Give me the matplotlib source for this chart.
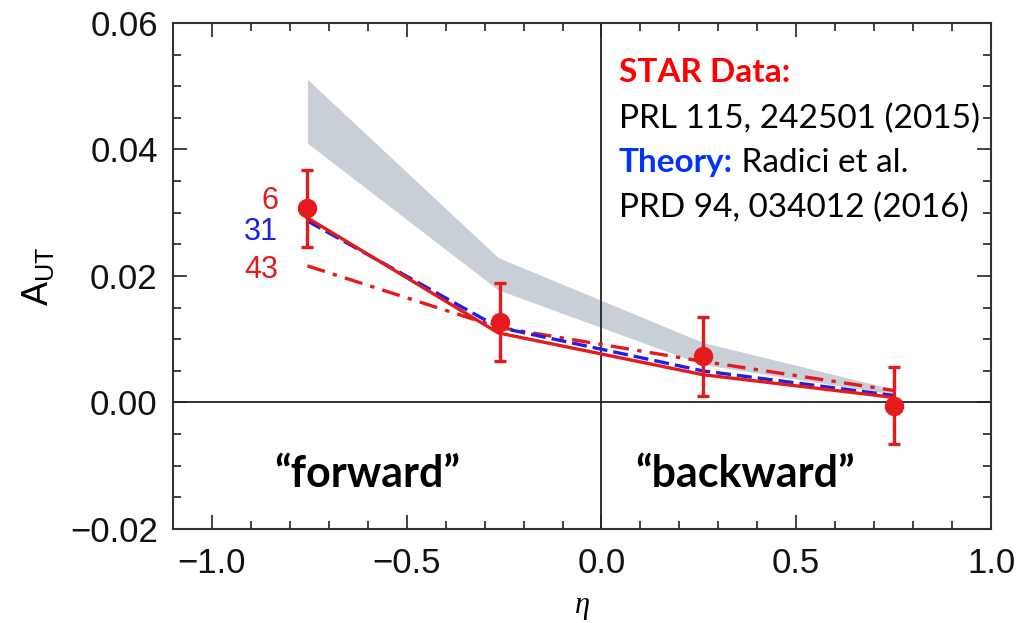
import matplotlib
matplotlib.use('Agg')
import matplotlib.pyplot as plt
from matplotlib.ticker import MultipleLocator, FuncFormatter

# STAR data points (eta, A_UT, stat. error)
eta_data = [-0.755, -0.26, 0.26, 0.75]
aut_data = [0.0307, 0.0127, 0.0073, -0.0005]
aut_err = [0.0061, 0.0062, 0.0062, 0.0061]

# theory band (upper / lower edge)
band_eta = [-0.755, -0.265, 0.26, 0.75]
band_hi = [0.0511, 0.0229, 0.0095, 0.0021]
band_lo = [0.0410, 0.0178, 0.0060, 0.0013]

# theory curves for the three fits
theory_eta = [-0.755, -0.265, 0.26, 0.75]
theory_6 = [0.0292, 0.0110, 0.0044, 0.0008]
theory_31 = [0.0287, 0.0119, 0.0050, 0.0011]
theory_43 = [0.0216, 0.0119, 0.0065, 0.0019]
curve_labels = ['6', '31', '43']

RED = '#e41a1c'
BLUE = '#1f1fe6'
GRAY = '#c9cfd7'

plt.rcParams['font.family'] = ['Liberation Sans', 'DejaVu Sans']
plt.rcParams['mathtext.default'] = 'regular'

fig = plt.figure(figsize=(10.26, 6.23), dpi=100)
ax = fig.add_axes([0.1686, 0.1509, 0.7973, 0.8122])

ax.fill_between(band_eta, band_lo, band_hi, color=GRAY, lw=0, zorder=1)
ax.axhline(0, color='#222222', lw=1.3, zorder=2)
ax.axvline(0, color='#222222', lw=1.3, zorder=2)

ax.plot(theory_eta, theory_43, color=RED, lw=2.4, ls=(0, (5.5, 2.5, 1.3, 2.5)), zorder=3)
ax.plot(theory_eta, theory_31, color=BLUE, lw=2.4, ls=(0, (4.5, 1.8)), zorder=4)
ax.plot(theory_eta, theory_6, color=RED, lw=2.4, zorder=5)

ax.errorbar(eta_data, aut_data, yerr=aut_err, fmt='o', color=RED, ms=13,
            elinewidth=2.4, capsize=4.5, capthick=2.4, zorder=6)

# curve labels next to the left end
lab_y = [0.0318, 0.0269, 0.0209]
lab_c = [RED, BLUE, RED]
for lab, yy, cc in zip(curve_labels, lab_y, lab_c):
    ax.text(-0.83, yy, lab, color=cc, fontsize=22, ha='right', va='center', zorder=7)

ax.set_xlim(-1.1, 1.0)
ax.set_ylim(-0.02, 0.06)
ax.xaxis.set_major_locator(MultipleLocator(0.5))
ax.xaxis.set_minor_locator(MultipleLocator(0.1))
ax.yaxis.set_major_locator(MultipleLocator(0.02))
ax.yaxis.set_minor_locator(MultipleLocator(0.005))
ax.xaxis.set_major_formatter(FuncFormatter(lambda v, p: ('%.1f' % v).replace('-', '\u2212')))
ax.yaxis.set_major_formatter(FuncFormatter(lambda v, p: ('%.2f' % v).replace('-', '\u2212')))
ax.tick_params(which='both', direction='in', top=True, right=True,
               colors='#333333', labelcolor='#111111', width=1.3)
ax.tick_params(which='major', length=10, labelsize=25)
ax.tick_params(axis='x', which='major', pad=13)
ax.tick_params(axis='y', which='major', pad=11)
ax.tick_params(which='minor', length=6)
for s in ax.spines.values():
    s.set_color('#333333')
    s.set_linewidth(1.5)

ax.set_ylabel(r'$A_{UT}$', fontsize=26, labelpad=10)
ax.set_xlabel('η', fontsize=22, family='Liberation Serif', style='italic', labelpad=8)

# text block
txt_kw = dict(transform=ax.transAxes, fontsize=24, family='Lato', va='baseline')
ax.text(0.545, 0.883, 'STAR Data:', color='#ff0000', weight='bold', **txt_kw)
ax.text(0.545, 0.792, 'PRL 115, 242501 (2015)', color='black', **txt_kw)
t_th = ax.text(0.545, 0.705, 'Theory:', color='#0033ff', weight='bold', **txt_kw)
ax.text(0.545, 0.616, 'PRD 94, 034012 (2016)', color='black', **txt_kw)
fig.canvas.draw()
bb = t_th.get_window_extent().transformed(ax.transAxes.inverted())
ax.text(bb.x1, 0.705, ' Radici et al.', color='black', **txt_kw)

ax.text(-0.6, -0.0133, '\u201cforward\u201d', fontsize=31, family='Lato', weight='bold',
        ha='center', va='baseline')
ax.text(0.37, -0.0133, '\u201cbackward\u201d', fontsize=31, family='Lato', weight='bold',
        ha='center', va='baseline')

fig.savefig('out.png', dpi=100)
